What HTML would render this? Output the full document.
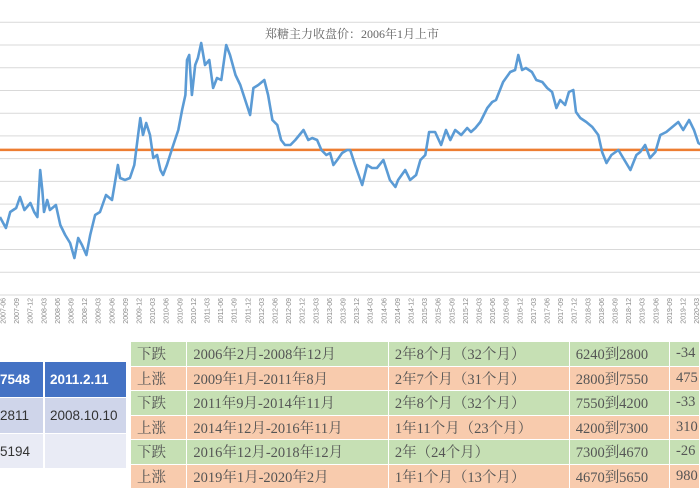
<!DOCTYPE html>
<html><head><meta charset="utf-8">
<style>
body{margin:0;width:700px;height:500px;overflow:hidden;background:#fff;position:relative;font-family:"Liberation Serif","Noto Serif CJK SC",serif;}
#chart{position:absolute;left:0;top:0}
.lt{position:absolute;left:0;top:362px;border-collapse:collapse;font-family:"Liberation Sans","Noto Sans CJK SC",sans-serif;font-size:13.5px;color:#333}
.lt td{padding:0;vertical-align:top;border-right:2px solid #fff;border-bottom:1px solid #fff}
.rt{position:absolute;left:130px;top:341px;border-collapse:collapse;font-size:14.5px;color:#555}
.rt td{height:23.5px;padding:0 0 0 6px;border:1.5px solid #fff;white-space:nowrap;overflow:hidden}
.g td{background:#c6e0b4}.o td{background:#f8cbad}
</style></head><body>
<svg id="chart" width="700" height="335" xmlns="http://www.w3.org/2000/svg">
<g id="grid"></g>
<text x="352" y="38" text-anchor="middle" font-size="12" fill="#666" font-family="Liberation Serif, Noto Serif CJK SC, serif">郑糖主力收盘价：2006年1月上市</text>
<g id="xt"></g>
<polyline id="avg" fill="none" stroke="#ed7d31" stroke-width="2.5"/>
<polyline id="price" fill="none" stroke="#5b9bd5" stroke-width="2.6" stroke-linejoin="round"/>
</svg>

<table class="lt">
<tr style="height:35px"><td style="width:43px;background:#4472c4;color:#fff;font-weight:bold;padding-top:10px">7548</td><td style="width:76px;background:#4472c4;color:#fff;font-weight:bold;padding:10px 0 0 5px">2011.2.11</td></tr>
<tr style="height:36px"><td style="background:#cfd5ea;padding-top:10px">2811</td><td style="background:#cfd5ea;padding:10px 0 0 5px">2008.10.10</td></tr>
<tr style="height:35px"><td style="background:#e9ebf5;padding-top:10px">5194</td><td style="background:#e9ebf5"></td></tr>
</table>

<table class="rt">
<colgroup><col style="width:57px"><col style="width:203px"><col style="width:182px"><col style="width:101px"><col style="width:30px"></colgroup>
<tr class="g"><td>下跌</td><td>2006年2月-2008年12月</td><td>2年8个月（32个月）</td><td>6240到2800</td><td>-34</td></tr>
<tr class="o"><td>上涨</td><td>2009年1月-2011年8月</td><td>2年7个月（31个月）</td><td>2800到7550</td><td>475</td></tr>
<tr class="g"><td>下跌</td><td>2011年9月-2014年11月</td><td>2年8个月（32个月）</td><td>7550到4200</td><td>-33</td></tr>
<tr class="o"><td>上涨</td><td>2014年12月-2016年11月</td><td>1年11个月（23个月）</td><td>4200到7300</td><td>310</td></tr>
<tr class="g"><td>下跌</td><td>2016年12月-2018年12月</td><td>2年（24个月）</td><td>7300到4670</td><td>-26</td></tr>
<tr class="o"><td>上涨</td><td>2019年1月-2020年2月</td><td>1年1个月（13个月）</td><td>4670到5650</td><td>980</td></tr>
</table>

<script>
const times=[2007.36,2007.47,2007.55,2007.66,2007.73,2007.81,2007.92,2007.99,2008.05,2008.10,2008.14,2008.17,2008.23,2008.28,2008.39,2008.47,2008.56,2008.65,2008.73,2008.80,2008.87,2008.95,2009.02,2009.11,2009.20,2009.31,2009.42,2009.53,2009.57,2009.66,2009.75,2009.83,2009.90,2009.94,2009.99,2010.05,2010.12,2010.18,2010.25,2010.31,2010.36,2010.43,2010.53,2010.64,2010.71,2010.77,2010.80,2010.84,2010.89,2010.95,2011.00,2011.06,2011.13,2011.21,2011.28,2011.35,2011.43,2011.52,2011.59,2011.69,2011.78,2011.87,2011.96,2012.02,2012.11,2012.22,2012.29,2012.37,2012.46,2012.53,2012.60,2012.70,2012.79,2012.94,2013.03,2013.10,2013.19,2013.27,2013.36,2013.43,2013.49,2013.56,2013.65,2013.74,2013.80,2013.89,2014.02,2014.11,2014.20,2014.29,2014.41,2014.53,2014.63,2014.68,2014.81,2014.90,2015.01,2015.09,2015.18,2015.25,2015.36,2015.47,2015.56,2015.64,2015.73,2015.84,2015.95,2016.02,2016.10,2016.19,2016.32,2016.41,2016.48,2016.61,2016.74,2016.83,2016.89,2016.96,2017.03,2017.14,2017.22,2017.33,2017.42,2017.51,2017.59,2017.66,2017.75,2017.82,2017.90,2017.95,2018.03,2018.14,2018.25,2018.36,2018.43,2018.51,2018.60,2018.73,2018.84,2018.95,2019.06,2019.13,2019.22,2019.31,2019.41,2019.50,2019.61,2019.72,2019.83,2019.92,2020.03,2020.12,2020.20,2020.26];
const prices=[3716,3474,3826,3914,4156,3870,4024,3826,3716,4750,4310,3826,4090,3870,3980,3540,3320,3144,2814,3254,3100,2880,3320,3760,3826,4200,4090,4860,4574,4530,4574,4860,5520,5894,5520,5784,5520,5014,5080,4750,4640,4860,5234,5630,6070,6400,7170,7280,6400,7060,7214,7544,7060,7170,6554,6774,6730,7500,7280,6840,6620,6290,5960,6554,6620,6730,6400,5850,5740,5410,5300,5300,5410,5630,5410,5454,5410,5190,5080,5124,4860,4970,5124,5190,5190,4860,4420,4860,4794,4794,4970,4530,4376,4530,4750,4530,4640,4970,5080,5586,5586,5300,5630,5410,5630,5520,5674,5586,5674,5806,6114,6246,6290,6686,6906,6950,7280,6950,6994,6906,6730,6686,6554,6466,6114,6290,6180,6466,6510,6026,5894,5806,5696,5520,5146,4904,5080,5190,4970,4750,5080,5146,5300,5014,5146,5520,5586,5696,5806,5630,5850,5630,5344,5300];
const avgValue=[5194];
const yTicks=[2000,2500,3000,3500,4000,4500,5000,5500,6000,6500,7000,7500,8000];
const xLabels=[];
for(let y=2007;y<=2020;y++)for(const m of ["03","06","09","12"]){const k=y+"-"+m;if(k>="2007-06"&&k<="2020-03")xLabels.push(k);}
const NS="http://www.w3.org/2000/svg";
const X=t=>3+(t-2007.417)*54.4;
const Y=v=>295-(v-2000)*0.04545;
const grid=document.getElementById('grid');
yTicks.forEach(v=>{const l=document.createElementNS(NS,'line');


l.setAttribute('x1',0);l.setAttribute('x2',700);l.setAttribute('y1',Y(v));l.setAttribute('y2',Y(v));
l.setAttribute('stroke','#d9d9d9');l.setAttribute('stroke-width','1');grid.appendChild(l);});
const xt=document.getElementById('xt');
xLabels.forEach((s,i)=>{const p=s.split('-');const t=+p[0]+(+p[1]-1)/12;const x=X(t)+2.5;
const tx=document.createElementNS(NS,'text');


tx.setAttribute('transform',`translate(${x},298) rotate(-90)`);
tx.setAttribute('text-anchor','end');tx.setAttribute('font-size','7');tx.setAttribute('fill','#8a8a8a');
tx.setAttribute('font-family','Liberation Sans, sans-serif');tx.textContent=s;xt.appendChild(tx);});
document.getElementById('price').setAttribute('points',times.map((t,i)=>X(t).toFixed(1)+','+Y(prices[i]).toFixed(1)).join(' '));
document.getElementById('avg').setAttribute('points',`0,${Y(avgValue[0])} 700,${Y(avgValue[0])}`);
</script>
</body></html>
